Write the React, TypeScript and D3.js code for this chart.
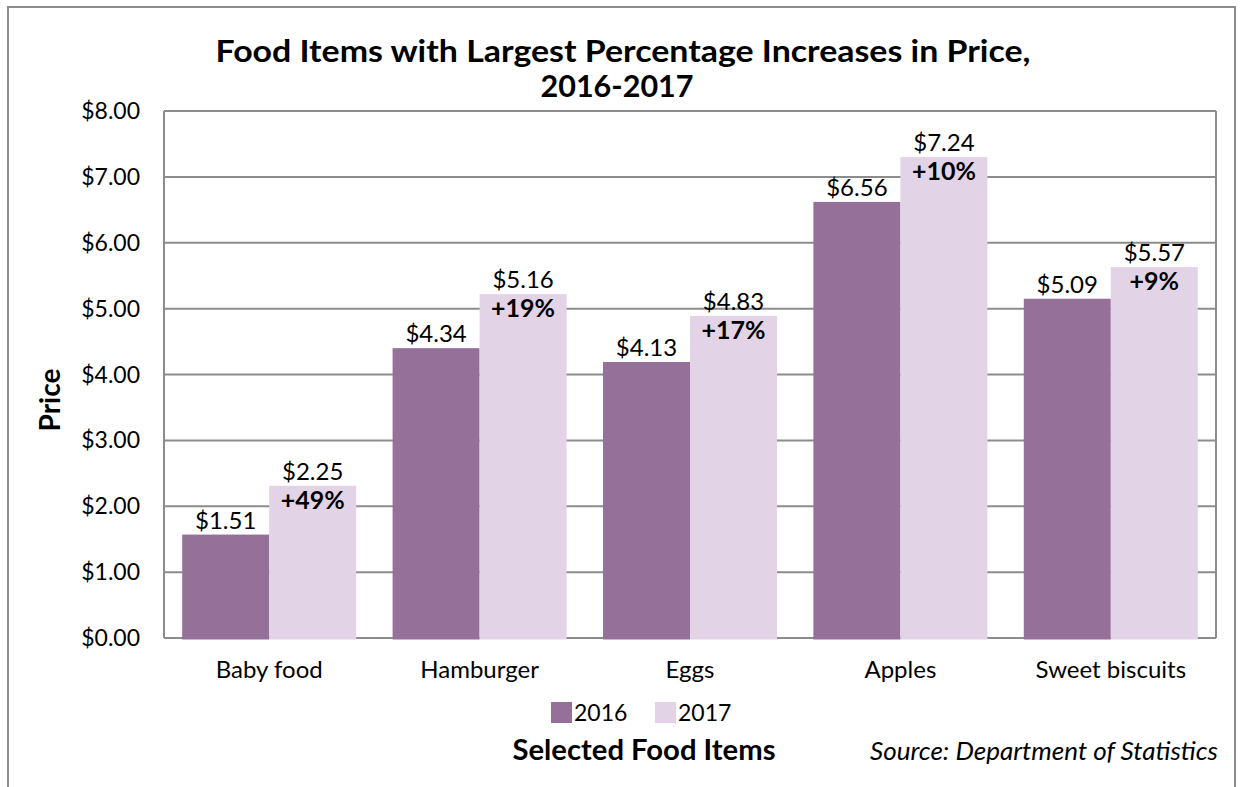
import React from "react";
import * as d3 from "d3";

const categories = ["Baby food", "Hamburger", "Eggs", "Apples", "Sweet biscuits"];
const seriesNames = ["2016", "2017"];
// bar heights as drawn in the picture
const heights2016 = [1.57, 4.4, 4.19, 6.62, 5.15];
const heights2017 = [2.31, 5.22, 4.89, 7.3, 5.63];
// printed labels
const labels2016 = ["$1.51", "$4.34", "$4.13", "$6.56", "$5.09"];
const labels2017 = ["$2.25", "$5.16", "$4.83", "$7.24", "$5.57"];
const pctLabels = ["+49%", "+19%", "+17%", "+10%", "+9%"];
const yTicks = [0, 1, 2, 3, 4, 5, 6, 7, 8];

const colors = ["#957099", "#e3d3e6"];
const FONT = "'Gill Sans MT', 'Gill Sans', Lato, 'Open Sans', sans-serif";
const GRID = "#8c8c8c";

export default function App() {
  const W = 1250, H = 787;
  const left = 164, right = 1216, top = 111, bottom = 638;
  const x0 = d3.scaleBand<string>().domain(categories).range([left, right]).padding(0);
  const x1 = d3.scaleBand<string>().domain(seriesNames).range([0, x0.bandwidth()]).paddingInner(0).paddingOuter(0.209);
  const y = d3.scaleLinear().domain([0, 8]).range([bottom, top]);
  const fmt = d3.format("$.2f");
  const series = [heights2016, heights2017];
  const labelSets = [labels2016, labels2017];

  return (
    <svg width={W} height={H} style={{ position: "absolute", left: 0, top: 0, background: "#fff" }} fontFamily={FONT}>
      <rect x={8} y={7} width={1227} height={800} fill="#fff" stroke="#8c8c8c" strokeWidth={2} />
      <text x={623} y={62} textAnchor="middle" fontSize={31} fontWeight="bold" textLength={815} lengthAdjust="spacingAndGlyphs">
        Food Items with Largest Percentage Increases in Price,
      </text>
      <text x={617} y={97} textAnchor="middle" fontSize={31} fontWeight="bold" textLength={153} lengthAdjust="spacingAndGlyphs">2016-2017</text>

      {yTicks.map((t) => (
        <g key={t}>
          <line x1={left} x2={right} y1={y(t)} y2={y(t)} stroke={GRID} strokeWidth={2} />
          <text x={140} y={y(t)} dy="0.35em" textAnchor="end" fontSize={23}>{fmt(t)}</text>
        </g>
      ))}
      <line x1={left} x2={left} y1={top} y2={bottom} stroke={GRID} strokeWidth={2} />
      <line x1={right} x2={right} y1={top} y2={bottom} stroke={GRID} strokeWidth={2} />

      {categories.map((c, i) => (
        <g key={c}>
          {seriesNames.map((s, j) => {
            const v = series[j][i];
            const bx = (x0(c) as number) + (x1(s) as number);
            const bw = x1.bandwidth();
            return (
              <g key={s}>
                <rect x={bx} y={y(v)} width={bw} height={bottom + 1.5 - y(v)} fill={colors[j]} />
                <text x={bx + bw / 2} y={y(v) - 6} textAnchor="middle" fontSize={24}>{labelSets[j][i]}</text>
                {j === 1 && (
                  <text x={bx + bw / 2} y={y(v) + 23} textAnchor="middle" fontSize={25} fontWeight="bold">{pctLabels[i]}</text>
                )}
              </g>
            );
          })}
          <text x={(x0(c) as number) + x0.bandwidth() / 2} y={678} textAnchor="middle" fontSize={24}>{c}</text>
        </g>
      ))}

      {seriesNames.map((s, j) => (
        <g key={s}>
          <rect x={551 + j * 104} y={702} width={21} height={21} fill={colors[j]} />
          <text x={574 + j * 104} y={721} fontSize={23}>{s}</text>
        </g>
      ))}

      <text transform="translate(60,400) rotate(-90)" textAnchor="middle" fontSize={28} fontWeight="bold">Price</text>
      <text x={644} y={760} textAnchor="middle" fontSize={28} fontWeight="bold" textLength={263} lengthAdjust="spacingAndGlyphs">Selected Food Items</text>
      <text x={1218} y={760} textAnchor="end" fontSize={25} fontStyle="italic" textLength={348} lengthAdjust="spacingAndGlyphs">Source: Department of Statistics</text>
    </svg>
  );
}
